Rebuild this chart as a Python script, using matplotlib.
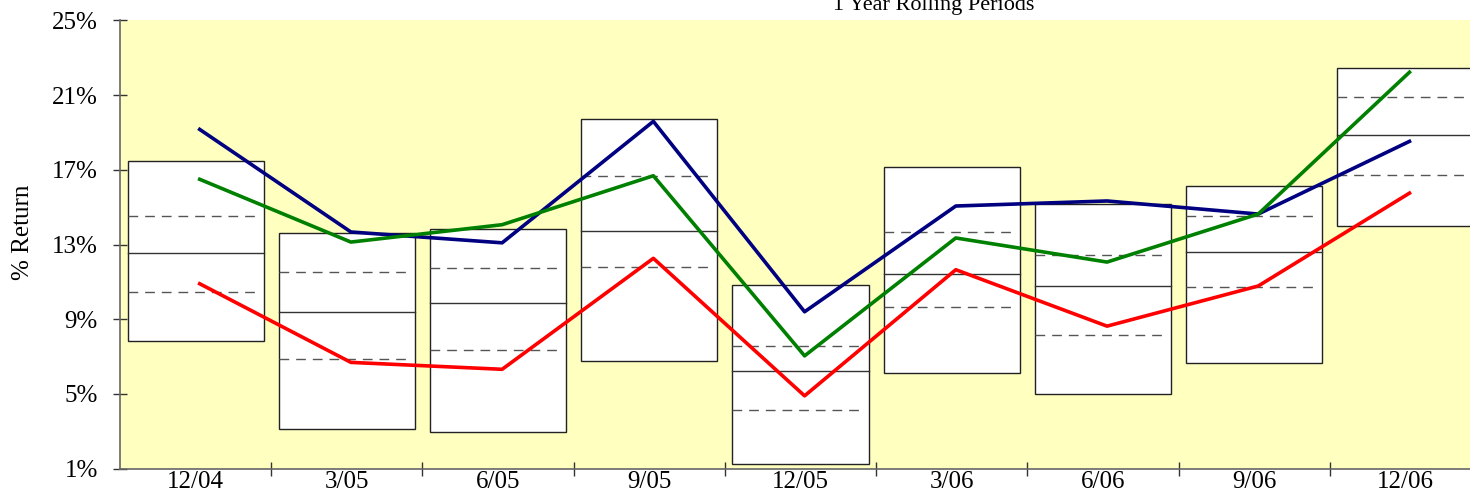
import matplotlib

matplotlib.use("Agg")
import matplotlib.pyplot as plt
from matplotlib.patches import Rectangle

# quarter-end labels
periods = ["12/04", "3/05", "6/05", "9/05", "12/05", "3/06", "6/06", "9/06", "12/06"]

# universe ranges (% return): top, upper quartile, median, lower quartile, bottom
box_top = [17.47, 13.61, 13.84, 19.72, 10.81, 17.15, 15.18, 16.13, 22.43]
box_q3 = [14.51, 11.53, 11.76, 16.65, 7.55, 13.67, 12.42, 14.52, 20.91]
box_med = [12.56, 9.38, 9.88, 13.72, 6.21, 11.42, 10.76, 12.58, 18.86]
box_q1 = [10.47, 6.87, 7.35, 11.78, 4.14, 9.66, 8.17, 10.71, 16.70]
box_bot = [7.85, 3.12, 2.98, 6.75, 1.23, 6.10, 4.98, 6.67, 14.00]

# return series
navy_vals = [19.16, 13.67, 13.09, 19.59, 9.40, 15.06, 15.33, 14.63, 18.52]
green_vals = [16.49, 13.13, 14.06, 16.68, 7.04, 13.35, 12.06, 14.63, 22.22]
red_vals = [10.90, 6.69, 6.32, 12.26, 4.90, 11.65, 8.63, 10.78, 15.75]

yticks = [1, 5, 9, 13, 17, 21, 25]

BOX_W = 0.90
LINE_SHIFT = 0.027
serif = "Liberation Serif"

fig = plt.figure(figsize=(14.7, 4.96), dpi=100)
ax = fig.add_axes([120 / 1470, 1 - 468.7 / 496, 1361 / 1470, 448.4 / 496])
ax.set_facecolor("#ffffc0")
ax.set_xlim(-0.5, len(periods) - 0.5)
ax.set_ylim(1, 25)

xs = range(len(periods))
for i in xs:
    left, right = i - BOX_W / 2, i + BOX_W / 2
    ax.add_patch(Rectangle((left, box_bot[i]), BOX_W, box_top[i] - box_bot[i],
                           facecolor="white", edgecolor="#222222", lw=1.0, zorder=2))
    ax.plot([left, right], [box_med[i]] * 2, color="#333333", lw=1.0, zorder=3)
    for q in (box_q3[i], box_q1[i]):
        ax.plot([left, right - 0.03], [q, q], color="#555555", lw=1.0,
                dashes=(7, 5), zorder=3)

lx = [i + LINE_SHIFT for i in xs]
ax.plot(lx, navy_vals, color="#000080", lw=2.6, zorder=5)
ax.plot(lx, green_vals, color="#008000", lw=2.6, zorder=5)
ax.plot(lx, red_vals, color="#ff0000", lw=2.6, zorder=5)

ax.set_yticks(yticks)
ax.set_yticklabels([f"{v}%" for v in yticks], fontsize=18, family=serif)
ax.set_xticks([i + 0.5 for i in range(len(periods) - 1)])
ax.set_xticklabels([])
ax.set_xticks(list(xs), minor=True)
ax.set_xticklabels(periods, minor=True, fontsize=18, family=serif)
ax.tick_params(axis="both", which="major", direction="inout", length=10,
               width=1, color="#333333")
ax.tick_params(axis="x", which="minor", length=0, pad=2)
ax.tick_params(axis="y", pad=11)

for side in ("top", "right"):
    ax.spines[side].set_visible(False)
for side in ("left", "bottom"):
    ax.spines[side].set_color("#666666")
    ax.spines[side].set_linewidth(1.2)

fig.text(23 / 1470, 1 - 232 / 496, "% Return", rotation=90, ha="center",
         va="center", fontsize=18, family=serif)
fig.text(934 / 1470, 1 - 10 / 496, "1 Year Rolling Periods", ha="center",
         va="baseline", fontsize=16, family=serif)

fig.savefig("out.png", dpi=100)
